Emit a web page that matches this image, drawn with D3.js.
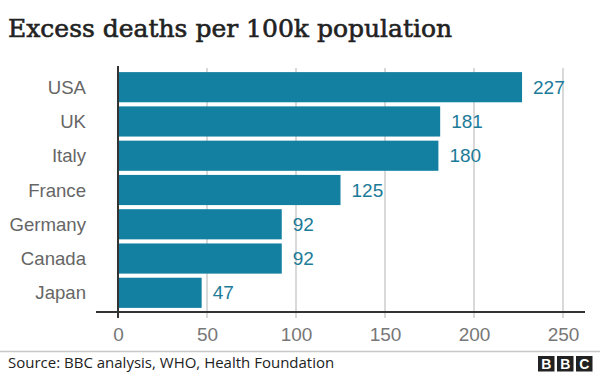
<!DOCTYPE html>
<html>
<head>
<meta charset="utf-8">
<script src="https://cdnjs.cloudflare.com/ajax/libs/d3/7.8.5/d3.min.js"></script>
<style>
  body { margin: 0; background: #fff; }
  svg { display: block; }
</style>
</head>
<body>
<div id="chart"></div>
<script>
// data
const countries = ["USA", "UK", "Italy", "France", "Germany", "Canada", "Japan"];
const deaths = [227, 181, 180, 125, 92, 92, 47];
const xTicks = [0, 50, 100, 150, 200, 250];

const width = 600, height = 374;

const svg = d3.select("#chart")
  .append("svg")
  .attr("width", width)
  .attr("height", height);

// scales
const x = d3.scaleLinear()
  .domain([0, 250])
  .range([118, 563]);

const y = d3.scaleBand()
  .domain(countries)
  .range([68, 312])
  .padding(0.12);

// title
svg.append("text")
  .attr("x", 8)
  .attr("y", 37)
  .style("font-family", "'DejaVu Serif', serif")
  .style("font-size", "25px")
  .style("fill", "#222")
  .style("stroke", "#222")
  .style("stroke-width", 0.6)
  .text("Excess deaths per 100k population");

// gridlines
svg.append("g")
  .selectAll("line")
  .data(xTicks.slice(1))
  .join("line")
  .attr("x1", d => x(d))
  .attr("x2", d => x(d))
  .attr("y1", 68)
  .attr("y2", 318)
  .style("stroke", "#cccccc")
  .style("stroke-width", 1.5);

// bars
svg.append("g")
  .selectAll("rect")
  .data(countries)
  .join("rect")
  .attr("x", x(0))
  .attr("y", d => y(d))
  .attr("width", (d, i) => x(deaths[i]) - x(0))
  .attr("height", y.bandwidth())
  .style("fill", "#1380a1");

// value labels
svg.append("g")
  .selectAll("text")
  .data(countries)
  .join("text")
  .attr("x", (d, i) => x(deaths[i]) + 11)
  .attr("y", d => y(d) + y.bandwidth() / 2)
  .attr("dy", "0.35em")
  .style("font-family", "'Liberation Sans', Arial, sans-serif")
  .style("font-size", "19px")
  .style("fill", "#1b7b98")
  .text((d, i) => deaths[i]);

// category labels
svg.append("g")
  .selectAll("text")
  .data(countries)
  .join("text")
  .attr("x", 86)
  .attr("y", d => y(d) + y.bandwidth() / 2)
  .attr("dy", "0.35em")
  .attr("text-anchor", "end")
  .style("font-family", "'Liberation Sans', Arial, sans-serif")
  .style("font-size", "18.6px")
  .style("fill", "#666")
  .text(d => d);

// zero line
svg.append("line")
  .attr("x1", x(0))
  .attr("x2", x(0))
  .attr("y1", 66)
  .attr("y2", 318)
  .style("stroke", "#333")
  .style("stroke-width", 2);

// x axis
const xAxis = svg.append("g")
  .attr("transform", "translate(0,312)")
  .call(d3.axisBottom(x).tickValues(xTicks).tickSize(0).tickPadding(16));

xAxis.select(".domain").remove();
xAxis.append("line")
  .attr("x1", 96)
  .attr("x2", 585)
  .style("stroke", "#333")
  .style("stroke-width", 2);
xAxis.selectAll("text")
  .style("font-family", "'Liberation Sans', Arial, sans-serif")
  .style("font-size", "19px")
  .style("fill", "#777");

// footer
svg.append("line")
  .attr("x1", 0)
  .attr("x2", width)
  .attr("y1", 351.5)
  .attr("y2", 351.5)
  .style("stroke", "#c8c8c8")
  .style("stroke-width", 1.5);

svg.append("text")
  .attr("x", 8)
  .attr("y", 368)
  .style("font-family", "'Open Sans', 'Liberation Sans', sans-serif")
  .style("font-size", "15px")
  .style("fill", "#222")
  .text("Source: BBC analysis, WHO, Health Foundation");

// BBC blocks
const logo = svg.append("g").attr("transform", "translate(538,356)");
["B", "B", "C"].forEach((l, i) => {
  logo.append("rect")
    .attr("x", i * 19)
    .attr("y", 0)
    .attr("width", 16.5)
    .attr("height", 15.5)
    .style("fill", "#222");
  logo.append("text")
    .attr("x", i * 19 + 8.25)
    .attr("y", 13)
    .attr("text-anchor", "middle")
    .style("font-family", "'Liberation Sans', Arial, sans-serif")
    .style("font-weight", "bold")
    .style("font-size", "14px")
    .style("fill", "#fff")
    .text(l);
});
</script>
</body>
</html>
